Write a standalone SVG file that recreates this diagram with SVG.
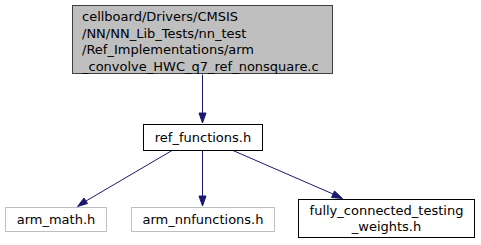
<svg xmlns="http://www.w3.org/2000/svg" width="481" height="245" viewBox="0 0 481 245">
  <style>
    text { font-family: "DejaVu Sans", "Liberation Sans", sans-serif; font-size: 13px; fill: #000000; }
    .mid { text-anchor: middle; }
    .box { fill: #ffffff; stroke: #000000; stroke-width: 1; }
    .ext { fill: #ffffff; stroke: #bfbfbf; stroke-width: 1; }
    .root { fill: #bfbfbf; stroke: #404040; stroke-width: 1; }
    .edge { fill: none; stroke: #191970; stroke-width: 1; }
    .head { fill: #191970; stroke: #191970; stroke-width: 1; }
  </style>
  <rect width="481" height="245" fill="#ffffff"/>

  <g id="connectors">
    <path class="edge" d="M202.5,74.5 L202.5,113"/>
    <polygon class="head" points="199,113 202.5,123 206,113"/>

    <path class="edge" d="M172,150.5 L86,201"/>
    <polygon class="head" points="84,198 77.5,206.5 87.5,203.5"/>

    <path class="edge" d="M202.5,150.5 L202.5,196"/>
    <polygon class="head" points="199,196 202.5,206 206,196"/>

    <path class="edge" d="M233,150.5 L333,194"/>
    <polygon class="head" points="331.5,197.5 342.5,198.5 334.5,191"/>
  </g>

  <g id="node_root">
    <rect class="root" x="72.5" y="5.5" width="260" height="68"/>
    <text x="82" y="21">cellboard/Drivers/CMSIS</text>
    <text x="82" y="37.5">/NN/NN_Lib_Tests/nn_test</text>
    <text x="82" y="54">/Ref_Implementations/arm</text>
    <text x="82" y="70.5">_convolve_HWC_q7_ref_nonsquare.c</text>
  </g>

  <g id="node_ref_functions">
    <rect class="box" x="143.5" y="124.5" width="119" height="26"/>
    <text class="mid" x="203" y="142">ref_functions.h</text>
  </g>

  <g id="node_arm_math">
    <rect class="ext" x="5.5" y="207.5" width="101" height="24"/>
    <text class="mid" x="56" y="224">arm_math.h</text>
  </g>

  <g id="node_arm_nnfunctions">
    <rect class="ext" x="131.5" y="207.5" width="143" height="24"/>
    <text class="mid" x="203" y="224">arm_nnfunctions.h</text>
  </g>

  <g id="node_fully_connected">
    <rect class="box" x="298.5" y="199.5" width="176" height="38"/>
    <text class="mid" x="386.5" y="215">fully_connected_testing</text>
    <text class="mid" x="386.5" y="231">_weights.h</text>
  </g>
</svg>
